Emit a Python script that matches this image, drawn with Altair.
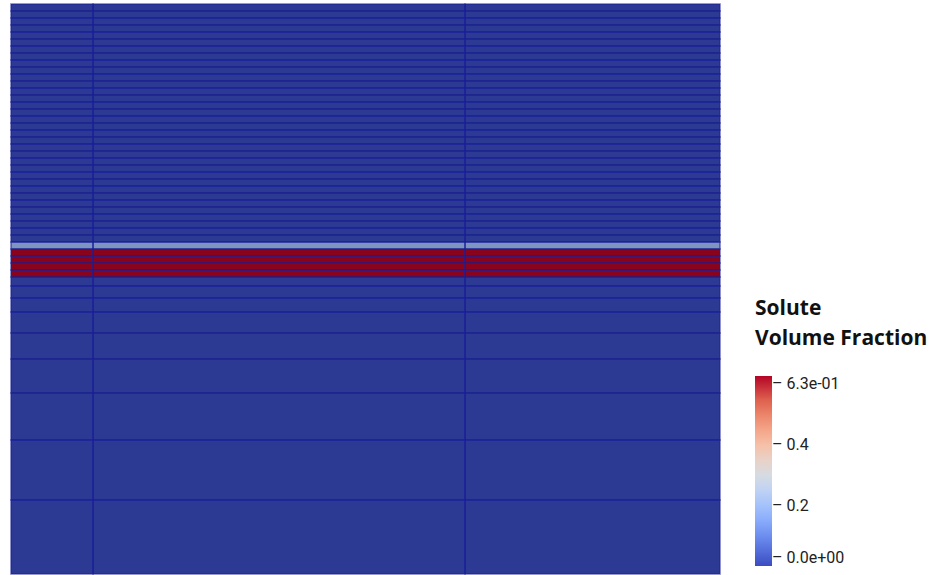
import altair as alt
import pandas as pd

# Mesh column edges (horizontal direction)
x_edges = [0, 82, 454, 709]

# Mesh row edges (vertical direction, bottom to top)
y_edges = [0, 74, 134, 181, 215, 241, 262, 276, 288, 297,
           304, 311, 318, 325, 332,
           339, 346, 353, 360, 367, 374, 381, 388, 395, 402,
           409, 416, 423, 430, 437, 444, 451, 458, 465, 472,
           479, 486, 493, 500, 507, 514, 521, 528, 535, 542,
           549, 556, 563, 570]

# Solute volume fraction per row (bottom to top)
row_values = [0, 0, 0, 0, 0, 0, 0, 0, 0,
              0.63, 0.63, 0.63, 0.63,
              0.2,
              0, 0, 0, 0, 0, 0, 0, 0, 0, 0,
              0, 0, 0, 0, 0, 0, 0, 0, 0, 0,
              0, 0, 0, 0, 0, 0, 0, 0, 0, 0,
              0, 0, 0, 0]

# Cool-to-Warm colour map stops
cmap_domain = [0, 0.079, 0.158, 0.236, 0.315, 0.394, 0.473, 0.551, 0.63]
cmap_range = ["#3b4cc0", "#6282ea", "#8db0fe", "#b8d0f9", "#dddddd",
              "#f5c4ad", "#f49a7b", "#de604d", "#b40426"]

rows = []
for i, v in enumerate(row_values):
    for j in range(len(x_edges) - 1):
        rows.append({"x0": x_edges[j], "x1": x_edges[j + 1],
                     "y0": y_edges[i], "y1": y_edges[i + 1], "v": v})
df = pd.DataFrame(rows)

xs = alt.Scale(domain=[0, 709], nice=False, zero=False)
ys = alt.Scale(domain=[0, 570], nice=False, zero=False)

base = alt.Chart(df).encode(
    x=alt.X("x0:Q", scale=xs, axis=None),
    x2="x1:Q",
    y=alt.Y("y0:Q", scale=ys, axis=None),
    y2="y1:Q",
)

cells = base.mark_rect(strokeWidth=0).encode(
    color=alt.Color(
        "v:Q",
        scale=alt.Scale(domain=cmap_domain, range=cmap_range, interpolate="rgb"),
        legend=alt.Legend(
            title=["Solute", "Volume Fraction"],
            orient="none",
            legendX=744,
            legendY=294,
            direction="vertical",
            gradientLength=190,
            gradientThickness=17,
            gradientStrokeWidth=0,
            values=[0, 0.2, 0.4, 0.63],
            labelExpr="(datum.value >= 0.62 ? '–  6.3e-01' : datum.value <= 0 ? '–  0.0e+00' : '–  ' + format(datum.value, '.1f'))",
            labelFont="Roboto",
            labelFontSize=16,
            labelColor="#222222",
            labelBaseline="middle",
            labelOffset=0,
            labelOverlap=False,
            titleFont="Open Sans",
            titleFontSize=21,
            titleFontWeight="bold",
            titleColor="#111111",
            titleLineHeight=30,
            titlePadding=27,
        ),
    )
)

shade = base.mark_rect(
    fill="black", fillOpacity=0.23, stroke="#1a1f9a", strokeOpacity=0.6, strokeWidth=1.6
)

chart = alt.layer(cells, shade).properties(
    width=709,
    height=570,
    padding={"left": 10, "top": 3, "right": 0, "bottom": 2},
).configure_view(strokeWidth=0)

chart.save("out.html", embed_options={"renderer": "svg", "actions": False})
